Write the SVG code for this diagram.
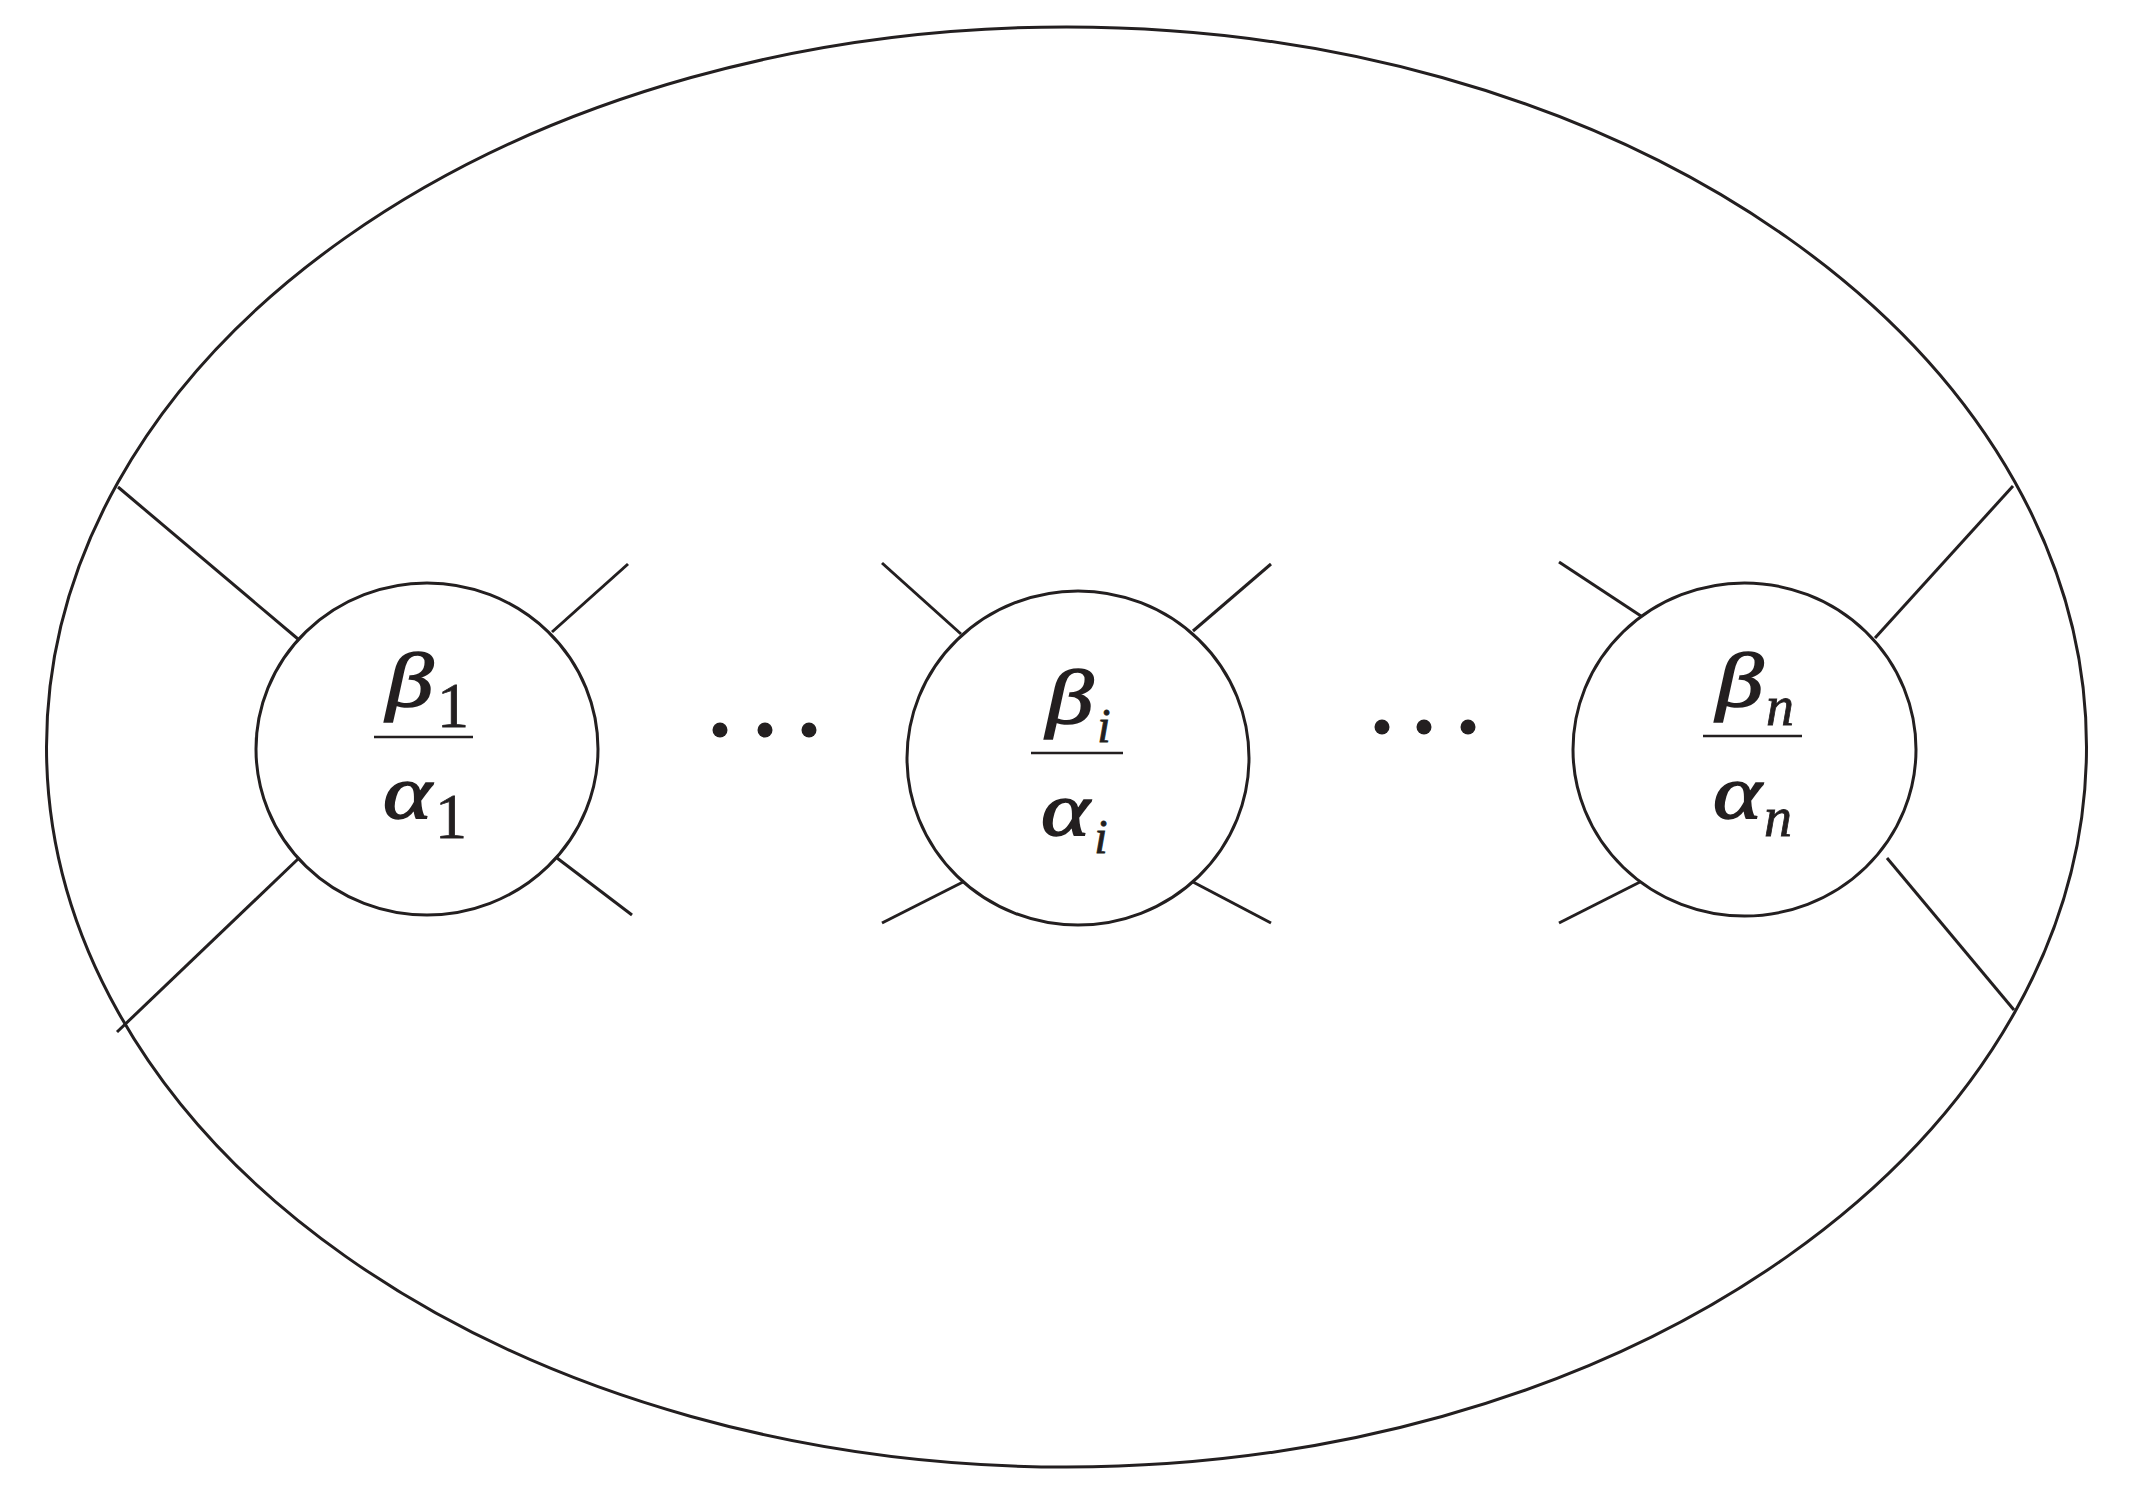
<svg xmlns="http://www.w3.org/2000/svg" width="2144" height="1506" viewBox="0 0 2144 1506">
<style>
.ln{stroke:#231f20;stroke-width:3;fill:none;stroke-linecap:butt}
.fr{stroke:#231f20;stroke-width:2.5}
.g{font-family:"Liberation Serif","Times New Roman",serif;font-style:italic;font-size:76px;fill:#231f20;stroke:#231f20;stroke-width:1.6}
.s1{font-family:"Liberation Serif","Times New Roman",serif;font-size:64px;fill:#231f20;text-anchor:middle;stroke:#231f20;stroke-width:0.8}
.si{font-family:"Liberation Serif","Times New Roman",serif;font-style:italic;font-size:48px;fill:#231f20;text-anchor:middle;stroke:#231f20;stroke-width:0.8}
.sn{font-family:"Liberation Serif","Times New Roman",serif;font-style:italic;font-size:56px;fill:#231f20;text-anchor:middle;stroke:#231f20;stroke-width:0.8}
.dot{fill:#231f20}
</style>
<rect width="2144" height="1506" fill="#fff"/>
<g id="outer">
<ellipse class="ln" cx="1066.5" cy="747" rx="1020" ry="720"/>
</g>
<g id="node1">
<ellipse class="ln" cx="427" cy="749" rx="171" ry="166"/>
<text class="g" transform="translate(386 706) scale(1.25 1)">β</text>
<text class="s1" x="453" y="727">1</text>
<line class="fr" x1="374" y1="737" x2="473" y2="737"/>
<text class="g" transform="translate(383 818) scale(1.22 1)">α</text>
<text class="s1" x="451" y="838">1</text>
</g>
<g id="nodei">
<ellipse class="ln" cx="1078" cy="758" rx="171" ry="167"/>
<text class="g" transform="translate(1046 723) scale(1.25 1)">β</text>
<text class="si" x="1104" y="742">i</text>
<line class="fr" x1="1031" y1="753" x2="1123" y2="753"/>
<text class="g" transform="translate(1041 835) scale(1.22 1)">α</text>
<text class="si" x="1101" y="853">i</text>
</g>
<g id="noden">
<ellipse class="ln" cx="1744.5" cy="749.5" rx="171.5" ry="166.5"/>
<text class="g" transform="translate(1716 706) scale(1.25 1)">β</text>
<text class="sn" x="1780" y="725">n</text>
<line class="fr" x1="1703" y1="736" x2="1802" y2="736"/>
<text class="g" transform="translate(1713 818) scale(1.22 1)">α</text>
<text class="sn" x="1778" y="836">n</text>
</g>
<g id="dots1">
<circle class="dot" cx="720" cy="730" r="7.5"/>
<circle class="dot" cx="765" cy="730" r="7.5"/>
<circle class="dot" cx="809" cy="730" r="7.5"/>
</g>
<g id="dots2">
<circle class="dot" cx="1382" cy="727" r="7.5"/>
<circle class="dot" cx="1424" cy="727" r="7.5"/>
<circle class="dot" cx="1468" cy="727" r="7.5"/>
</g>
<g id="connectors">
<line class="ln" x1="118" y1="487" x2="298" y2="639"/>
<line class="ln" x1="298" y1="859" x2="117" y2="1032"/>
<line class="ln" x1="552" y1="632" x2="628" y2="564"/>
<line class="ln" x1="557" y1="858" x2="632" y2="915"/>
<line class="ln" x1="882" y1="563" x2="961" y2="634"/>
<line class="ln" x1="1193" y1="631" x2="1271" y2="564"/>
<line class="ln" x1="882" y1="923" x2="963" y2="882"/>
<line class="ln" x1="1193" y1="882" x2="1271" y2="923"/>
<line class="ln" x1="1559" y1="562" x2="1641" y2="616"/>
<line class="ln" x1="1559" y1="923" x2="1640" y2="882"/>
<line class="ln" x1="1875" y1="638" x2="2013" y2="486"/>
<line class="ln" x1="1887" y1="858" x2="2014" y2="1010"/>
</g>
</svg>
